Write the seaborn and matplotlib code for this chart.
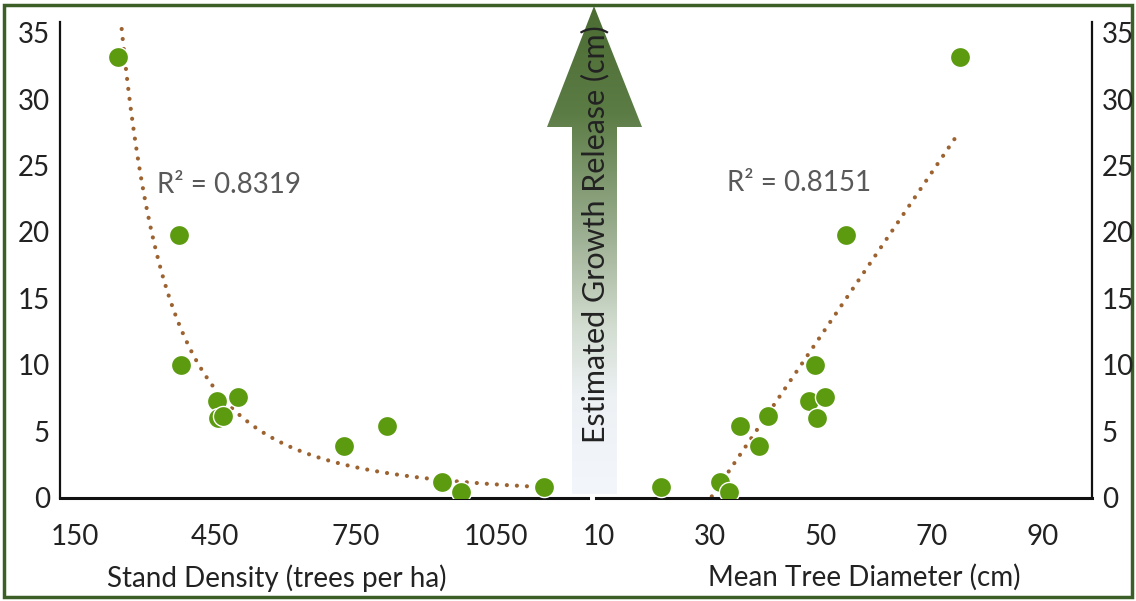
import numpy as np
import pandas as pd
import matplotlib
matplotlib.use("Agg")
import matplotlib.pyplot as plt
import seaborn as sns
from matplotlib.patches import Polygon, Rectangle
from matplotlib.colors import LinearSegmentedColormap

# Values (same 12 stands in both panels)
growth = [33.2, 19.8, 10.0, 7.3, 7.6, 5.95, 6.1, 3.9, 5.4, 1.2, 0.4, 0.77]
density = [243, 374, 377, 454, 499, 456, 468, 726, 818, 936, 976, 1154]
diameter = [75.0, 54.5, 48.9, 47.8, 50.8, 49.2, 40.5, 38.8, 35.5, 31.8, 33.5, 21.2]

density_ticks = [150, 450, 750, 1050]
diameter_ticks = [10, 30, 50, 70, 90]
growth_ticks = [0, 5, 10, 15, 20, 25, 30, 35]

r2_density = "R\u00b2 = 0.8319"
r2_diameter = "R\u00b2 = 0.8151"
middle_label = "Estimated Growth Release (cm)"

df = pd.DataFrame({"density": density, "diameter": diameter, "growth": growth})

# Trend lines: power fit for density, linear fit for diameter
b, log_a = np.polyfit(np.log(df["density"]), np.log(df["growth"]), 1)
xs = np.linspace(df["density"].min(), df["density"].max(), 400)
fit_density = pd.DataFrame({"x": xs, "y": np.exp(log_a) * xs ** b})

m, c = np.polyfit(df["diameter"], df["growth"], 1)
xs2 = np.linspace(df["diameter"].min(), df["diameter"].max(), 200)
fit_diameter = pd.DataFrame({"x": xs2, "y": m * xs2 + c})

sns.set_style("white")
plt.rcParams["font.family"] = ["Lato", "DejaVu Sans"]

W, H = 1136, 601
fig = plt.figure(figsize=(W / 100, H / 100), dpi=100)

# Background layer in pixel coordinates: frame and the gradient arrow
bg = fig.add_axes([0, 0, 1, 1])
bg.axis("off")

arrow_pts = [(572, 494), (572, 127), (547, 127), (594, 6), (642, 127), (617, 127), (617, 494)]
arrow = Polygon(arrow_pts, closed=True, facecolor="none", edgecolor="none")
bg.add_patch(arrow)
cmap = LinearSegmentedColormap.from_list(
    "arrow",
    [(0.0, "#f3f6fb"), (0.2, "#edf1f4"), (0.34, "#d3ddd1"), (0.55, "#97ab8c"),
     (0.78, "#5c7c45"), (1.0, "#4b6c33")])
grad = np.linspace(1, 0, 256).reshape(-1, 1)
img = bg.imshow(grad, cmap=cmap, extent=(540, 650, 494, 6), aspect="auto", zorder=1)
img.set_clip_path(arrow)
bg.set_xlim(0, W)
bg.set_ylim(H, 0)
bg.text(595, 234, middle_label, rotation=90, ha="center", va="center",
        fontsize=22, color="#222222", zorder=2)
bg.add_patch(Rectangle((4, 5), 1128, 592, facecolor="none",
                       edgecolor="#3b5f27", linewidth=2.5, zorder=3))

green = "#5c9a0f"
brown = "#9c6331"
dotted = (0, (0.01, 2.4))
y0_px, per_unit = 497.5, 13.28
ylim = (0, 35.8)
ax_bottom = (H - y0_px) / H
ax_height = (ylim[1] * per_unit) / H
fs = 20

# Left panel: stand density
ax1 = fig.add_axes([59.6 / W, ax_bottom, (588 - 59.6) / W, ax_height])
ax1.set_facecolor("none")
sns.lineplot(data=fit_density, x="x", y="y", ax=ax1, color=brown, linewidth=3,
             linestyle=dotted, dash_capstyle="round")
sns.scatterplot(data=df, x="density", y="growth", ax=ax1, color=green, s=210,
                edgecolor="white", linewidth=1, zorder=3)
ax1.set_xlim(118, 1247)
ax1.set_ylim(*ylim)
ax1.set_xticks(density_ticks)
ax1.set_yticks(growth_ticks)
ax1.text(326, 23.5, r2_density, fontsize=fs, color="#595959", va="center")
ax1.set_xlabel("Stand Density (trees per ha)", fontsize=fs, color="#222222")
ax1.xaxis.set_label_coords(0.411, -0.14)
ax1.set_ylabel("")
for s in ["top", "right"]:
    ax1.spines[s].set_visible(False)

# Right panel: mean tree diameter
ax2 = fig.add_axes([596 / W, ax_bottom, (1092 - 596) / W, ax_height])
ax2.set_facecolor("none")
sns.lineplot(data=fit_diameter, x="x", y="y", ax=ax2, color=brown, linewidth=3,
             linestyle=dotted, dash_capstyle="round")
sns.scatterplot(data=df, x="diameter", y="growth", ax=ax2, color=green, s=210,
                edgecolor="white", linewidth=1, zorder=3)
ax2.set_xlim(9.5, 98.8)
ax2.set_ylim(*ylim)
ax2.set_xticks(diameter_ticks)
ax2.set_yticks(growth_ticks)
ax2.yaxis.tick_right()
ax2.text(33.1, 23.7, r2_diameter, fontsize=fs, color="#595959", va="center")
ax2.set_xlabel("Mean Tree Diameter (cm)", fontsize=fs, color="#222222")
ax2.xaxis.set_label_coords(0.54, -0.14)
ax2.set_ylabel("")
for s in ["top", "left"]:
    ax2.spines[s].set_visible(False)

for ax in (ax1, ax2):
    for s in ax.spines.values():
        s.set_color("#111111")
    ax.spines["bottom"].set_linewidth(2.2)
    ax.tick_params(axis="x", direction="out", length=7, width=2.2, pad=12,
                   labelsize=fs, colors="#111111", labelcolor="#222222")
    ax.tick_params(axis="y", length=0, pad=7, labelsize=fs, labelcolor="#222222")
ax1.spines["left"].set_linewidth(1.6)
ax2.spines["right"].set_linewidth(1.6)

fig.savefig("out.png", dpi=100)
